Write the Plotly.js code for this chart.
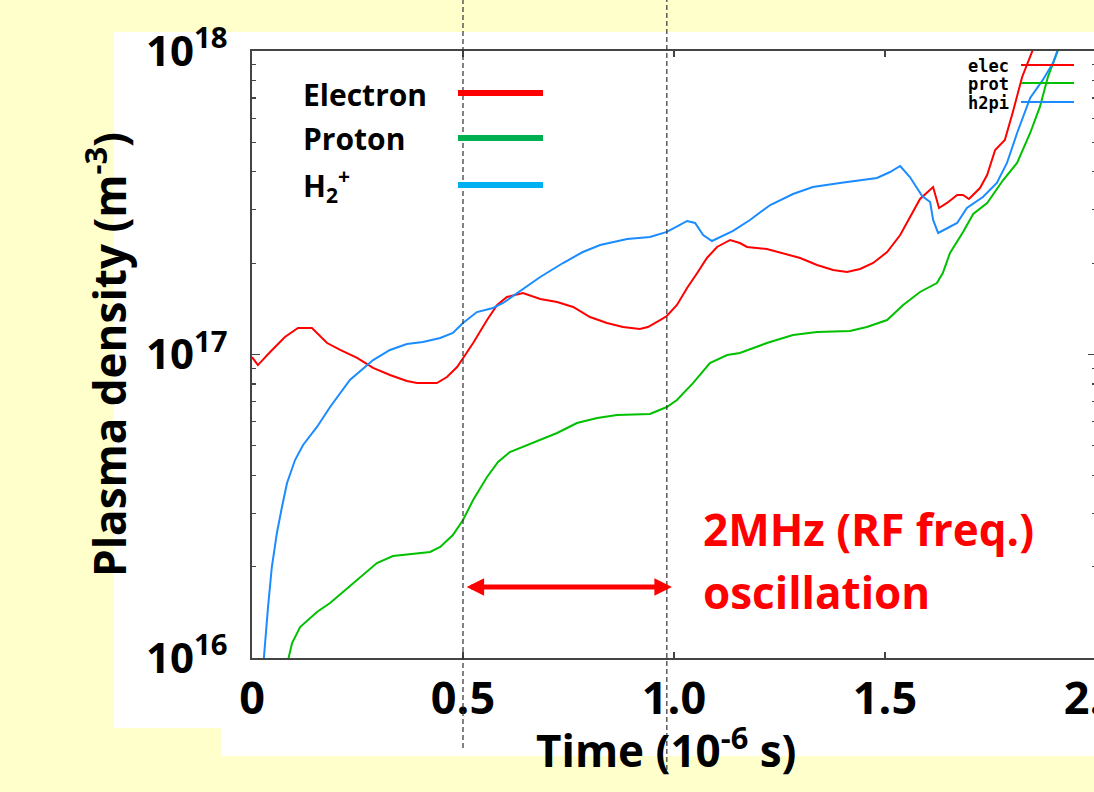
<!DOCTYPE html>
<html><head><meta charset="utf-8">
<script src="https://cdn.plot.ly/plotly-3.0.1.min.js"></script>
<style>html,body{margin:0;padding:0;overflow:hidden;background:#FFFFCC;} #chart{width:1100px;height:792px;}</style>
</head><body><div id="chart"></div>
<script>
// ---- data (time in 10^-6 s, density in m^-3) ----
const timeElec = [0, 0.014, 0.043, 0.078, 0.109, 0.142, 0.178, 0.209, 0.249, 0.287, 0.327, 0.367, 0.391, 0.438, 0.462, 0.486, 0.502, 0.524, 0.557, 0.581, 0.604, 0.642, 0.683, 0.723, 0.761, 0.801, 0.841, 0.879, 0.919, 0.938, 0.967, 0.983, 1.007, 1.031, 1.055, 1.078, 1.102, 1.133, 1.156, 1.173, 1.220, 1.258, 1.299, 1.339, 1.377, 1.410, 1.441, 1.472, 1.505, 1.536, 1.559, 1.583, 1.614, 1.628, 1.647, 1.671, 1.685, 1.699, 1.725, 1.742, 1.761, 1.784, 1.803, 1.825, 1.851];
const elec = [9.81e16, 9.23e16, 1.019e17, 1.142e17, 1.223e17, 1.223e17, 1.091e17, 1.035e17, 9.74e16, 9.03e16, 8.56e16, 8.18e16, 8.05e16, 8.05e16, 8.43e16, 9.09e16, 9.81e16, 1.091e17, 1.299e17, 1.456e17, 1.547e17, 1.594e17, 1.524e17, 1.489e17, 1.434e17, 1.329e17, 1.27e17, 1.232e17, 1.213e17, 1.232e17, 1.299e17, 1.339e17, 1.456e17, 1.656e17, 1.856e17, 2.08e17, 2.261e17, 2.384e17, 2.33e17, 2.261e17, 2.227e17, 2.16e17, 2.08e17, 1.972e17, 1.899e17, 1.87e17, 1.913e17, 2.002e17, 2.176e17, 2.476e17, 2.838e17, 3.254e17, 3.563e17, 3.039e17, 3.157e17, 3.354e17, 3.354e17, 3.254e17, 3.536e17, 3.903e17, 4.719e17, 5.09e17, 6.295e17, 8.21e17, 1.015e18];

const timeProt = [0.081, 0.095, 0.114, 0.154, 0.185, 0.216, 0.256, 0.296, 0.334, 0.374, 0.422, 0.446, 0.476, 0.500, 0.524, 0.557, 0.583, 0.611, 0.652, 0.683, 0.723, 0.770, 0.818, 0.865, 0.943, 0.983, 1.007, 1.045, 1.085, 1.126, 1.156, 1.220, 1.282, 1.339, 1.417, 1.457, 1.505, 1.543, 1.583, 1.623, 1.637, 1.654, 1.685, 1.709, 1.742, 1.780, 1.813, 1.844, 1.867, 1.886, 1.908, 1.915];
const prot = [9.27e15, 1.12e16, 1.265e16, 1.418e16, 1.518e16, 1.65e16, 1.849e16, 2.056e16, 2.168e16, 2.201e16, 2.235e16, 2.321e16, 2.542e16, 2.849e16, 3.316e16, 3.948e16, 4.424e16, 4.772e16, 5.033e16, 5.229e16, 5.513e16, 5.947e16, 6.177e16, 6.319e16, 6.367e16, 6.714e16, 7.08e16, 8.05e16, 9.375e16, 9.96e16, 1.011e17, 1.091e17, 1.159e17, 1.186e17, 1.195e17, 1.232e17, 1.299e17, 1.456e17, 1.607e17, 1.72e17, 1.856e17, 2.16e17, 2.534e17, 2.903e17, 3.157e17, 3.758e17, 4.276e17, 5.368e17, 6.54e17, 8.21e17, 9.85e17, 1.05e18];

const timeH2 = [0.024, 0.028, 0.038, 0.047, 0.059, 0.071, 0.083, 0.102, 0.121, 0.154, 0.185, 0.232, 0.287, 0.327, 0.367, 0.405, 0.446, 0.476, 0.500, 0.533, 0.571, 0.595, 0.628, 0.683, 0.737, 0.784, 0.825, 0.889, 0.943, 0.983, 1.014, 1.031, 1.050, 1.069, 1.090, 1.109, 1.140, 1.180, 1.228, 1.282, 1.329, 1.393, 1.481, 1.512, 1.536, 1.559, 1.588, 1.607, 1.614, 1.626, 1.647, 1.671, 1.694, 1.732, 1.765, 1.789, 1.813, 1.844, 1.874, 1.898, 1.910];
const h2pi = [8.5e15, 1.008e16, 1.472e16, 1.994e16, 2.582e16, 3.145e16, 3.772e16, 4.49e16, 5.033e16, 5.77e16, 6.714e16, 8.24e16, 9.59e16, 1.035e17, 1.083e17, 1.1e17, 1.133e17, 1.177e17, 1.27e17, 1.38e17, 1.423e17, 1.478e17, 1.594e17, 1.8e17, 2.002e17, 2.176e17, 2.295e17, 2.403e17, 2.44e17, 2.534e17, 2.672e17, 2.754e17, 2.712e17, 2.476e17, 2.366e17, 2.44e17, 2.553e17, 2.775e17, 3.109e17, 3.379e17, 3.563e17, 3.673e17, 3.815e17, 3.993e17, 4.179e17, 3.844e17, 3.329e17, 3.18e17, 2.775e17, 2.514e17, 2.612e17, 2.712e17, 3.039e17, 3.304e17, 3.673e17, 4.276e17, 5.368e17, 7.0e17, 8.03e17, 9.13e17, 1.015e18];

const seriesNames = ['elec', 'prot', 'h2pi'];
const seriesColors = ['#ff0000', '#00c000', '#1a8cff'];
const legendLabels = ['Electron', 'Proton', 'H<sub>2</sub><sup>+</sup>'];
const legendColors = ['#ff0000', '#00b050', '#00b0f0'];

const xTickVals = [0, 0.5, 1.0, 1.5, 2.0];
const xTickText = ['0', '0.5', '1.0', '1.5', '2.0'];
const yTickVals = [1e16, 1e17, 1e18];
const yTickText = ['10<sup>16</sup>', '10<sup>17</sup>', '10<sup>18</sup>'];
const yMinorVals = [2e16, 3e16, 4e16, 5e16, 6e16, 7e16, 8e16, 9e16, 2e17, 3e17, 4e17, 5e17, 6e17, 7e17, 8e17, 9e17];
const markerTimes = [0.5, 0.983];     // dashed guide lines
const arrowSpan = [0.505, 0.995];     // 2 MHz oscillation period arrow
const noteLines = ['2MHz (RF freq.)', 'oscillation'];
const xTitle = 'Time (10<sup>-6</sup> s)';
const yTitle = 'Plasma density (m<sup>-3</sup>)';

// ---- layout geometry ----
const W = 1100, H = 792, ML = 252, MR = 4, MT = 51, MB = 134;
const PW = W - ML - MR, PH = H - MT - MB;
const px = x => (x - ML) / PW;
const py = y => (H - MB - y) / PH;
const FONT = '"Open Sans", Lato, sans-serif';

const traces = [
  {x: timeElec, y: elec}, {x: timeProt, y: prot}, {x: timeH2, y: h2pi}
].map((d, i) => ({
  x: d.x, y: d.y, type: 'scatter', mode: 'lines', name: seriesNames[i],
  line: {color: seriesColors[i], width: 2}, showlegend: false, hoverinfo: 'x+y+name'
}));

const shapes = [
  {type: 'rect', xref: 'paper', yref: 'paper', x0: px(114), x1: px(1100), y0: py(728), y1: py(32), fillcolor: '#ffffff', line: {width: 0}, layer: 'below'},
  {type: 'rect', xref: 'paper', yref: 'paper', x0: px(221), x1: px(1100), y0: py(756), y1: py(727), fillcolor: '#ffffff', line: {width: 0}, layer: 'below'},
  {type: 'line', xref: 'x', yref: 'paper', x0: markerTimes[0], x1: markerTimes[0], y0: py(748), y1: py(0), line: {color: '#333', width: 1.2, dash: '5px,3px'}},
  {type: 'line', xref: 'x', yref: 'paper', x0: markerTimes[1], x1: markerTimes[1], y0: py(770), y1: py(0), line: {color: '#333', width: 1.2, dash: '5px,3px'}}
];
const annotations = [];
const pptY = [93, 138, 185];
const gnuY = [65, 83, 102];
for (let i = 0; i < 3; i++) {
  shapes.push({type: 'line', xref: 'paper', yref: 'paper', x0: px(458), x1: px(543), y0: py(pptY[i]), y1: py(pptY[i]), line: {color: legendColors[i], width: 6}});
  annotations.push({xref: 'paper', yref: 'paper', x: px(301), y: py(pptY[i] + 1), xanchor: 'left', yanchor: 'middle', showarrow: false, text: legendLabels[i], font: {family: FONT, size: 30, color: '#000', weight: 'bold'}});
  shapes.push({type: 'line', xref: 'paper', yref: 'paper', x0: px(1021), x1: px(1074), y0: py(gnuY[i]), y1: py(gnuY[i]), line: {color: seriesColors[i], width: 2}});
  annotations.push({xref: 'paper', yref: 'paper', x: px(1011), y: py(gnuY[i] + 1), xanchor: 'right', yanchor: 'middle', showarrow: false, text: seriesNames[i], font: {family: '"DejaVu Sans Mono", monospace', size: 17, color: '#000', weight: 'bold'}});
}
annotations.push({xref: 'paper', yref: 'paper', x: px(701), y: py(529), xanchor: 'left', yanchor: 'middle', showarrow: false, text: noteLines[0], font: {family: FONT, size: 44, color: '#ff0000', weight: 'bold'}});
annotations.push({xref: 'paper', yref: 'paper', x: px(701), y: py(592), xanchor: 'left', yanchor: 'middle', showarrow: false, text: noteLines[1], font: {family: FONT, size: 44, color: '#ff0000', weight: 'bold'}});
annotations.push({xref: 'x', yref: 'paper', x: arrowSpan[1], y: py(587), axref: 'x', ax: arrowSpan[0], ayref: 'pixel', ay: 0, text: '', showarrow: true, arrowside: 'end+start', arrowhead: 2, startarrowhead: 2, arrowsize: 0.7, startarrowsize: 0.7, arrowwidth: 5, arrowcolor: '#ff0000', standoff: 0, startstandoff: 0});
// x-axis title placed as annotation for exact position under the tick labels
annotations.push({xref: 'paper', yref: 'paper', x: px(666), y: py(748), xanchor: 'center', yanchor: 'middle', showarrow: false, text: xTitle, font: {family: FONT, size: 44, color: '#000', weight: 'bold'}});

const axisCommon = {showgrid: false, zeroline: false, showline: true, linecolor: '#444', linewidth: 2, mirror: 'ticks', ticks: 'inside', tickcolor: '#444', tickwidth: 1.5};

const layout = {
  width: W, height: H, margin: {l: ML, r: MR, t: MT, b: MB, pad: 0},
  paper_bgcolor: '#FFFFCC', plot_bgcolor: '#ffffff', showlegend: false,
  font: {family: FONT, color: '#000'},
  xaxis: Object.assign({}, axisCommon, {
    range: [0, 2], tickmode: 'array', tickvals: xTickVals, ticktext: xTickText, ticklen: 6,
    tickfont: {family: FONT, size: 45, color: '#000', weight: 'bold'}, ticklabelstandoff: 0, ticklabeloverflow: 'allow'
  }),
  yaxis: Object.assign({}, axisCommon, {
    type: 'log', range: [16, 18], tickmode: 'array', tickvals: yTickVals, ticktext: yTickText, ticklen: 8,
    minor: {tickmode: 'array', tickvals: yMinorVals, ticks: 'inside', ticklen: 4, tickcolor: '#444', tickwidth: 1.2},
    tickfont: {family: FONT, size: 42, color: '#000', weight: 'bold'}, ticklabelstandoff: 14,
    title: {text: yTitle, font: {family: FONT, size: 44, color: '#000', weight: 'bold'}, standoff: 6}
  }),
  shapes: shapes, annotations: annotations
};

Plotly.newPlot('chart', traces, layout, {displayModeBar: false, staticPlot: true});
</script></body></html>
